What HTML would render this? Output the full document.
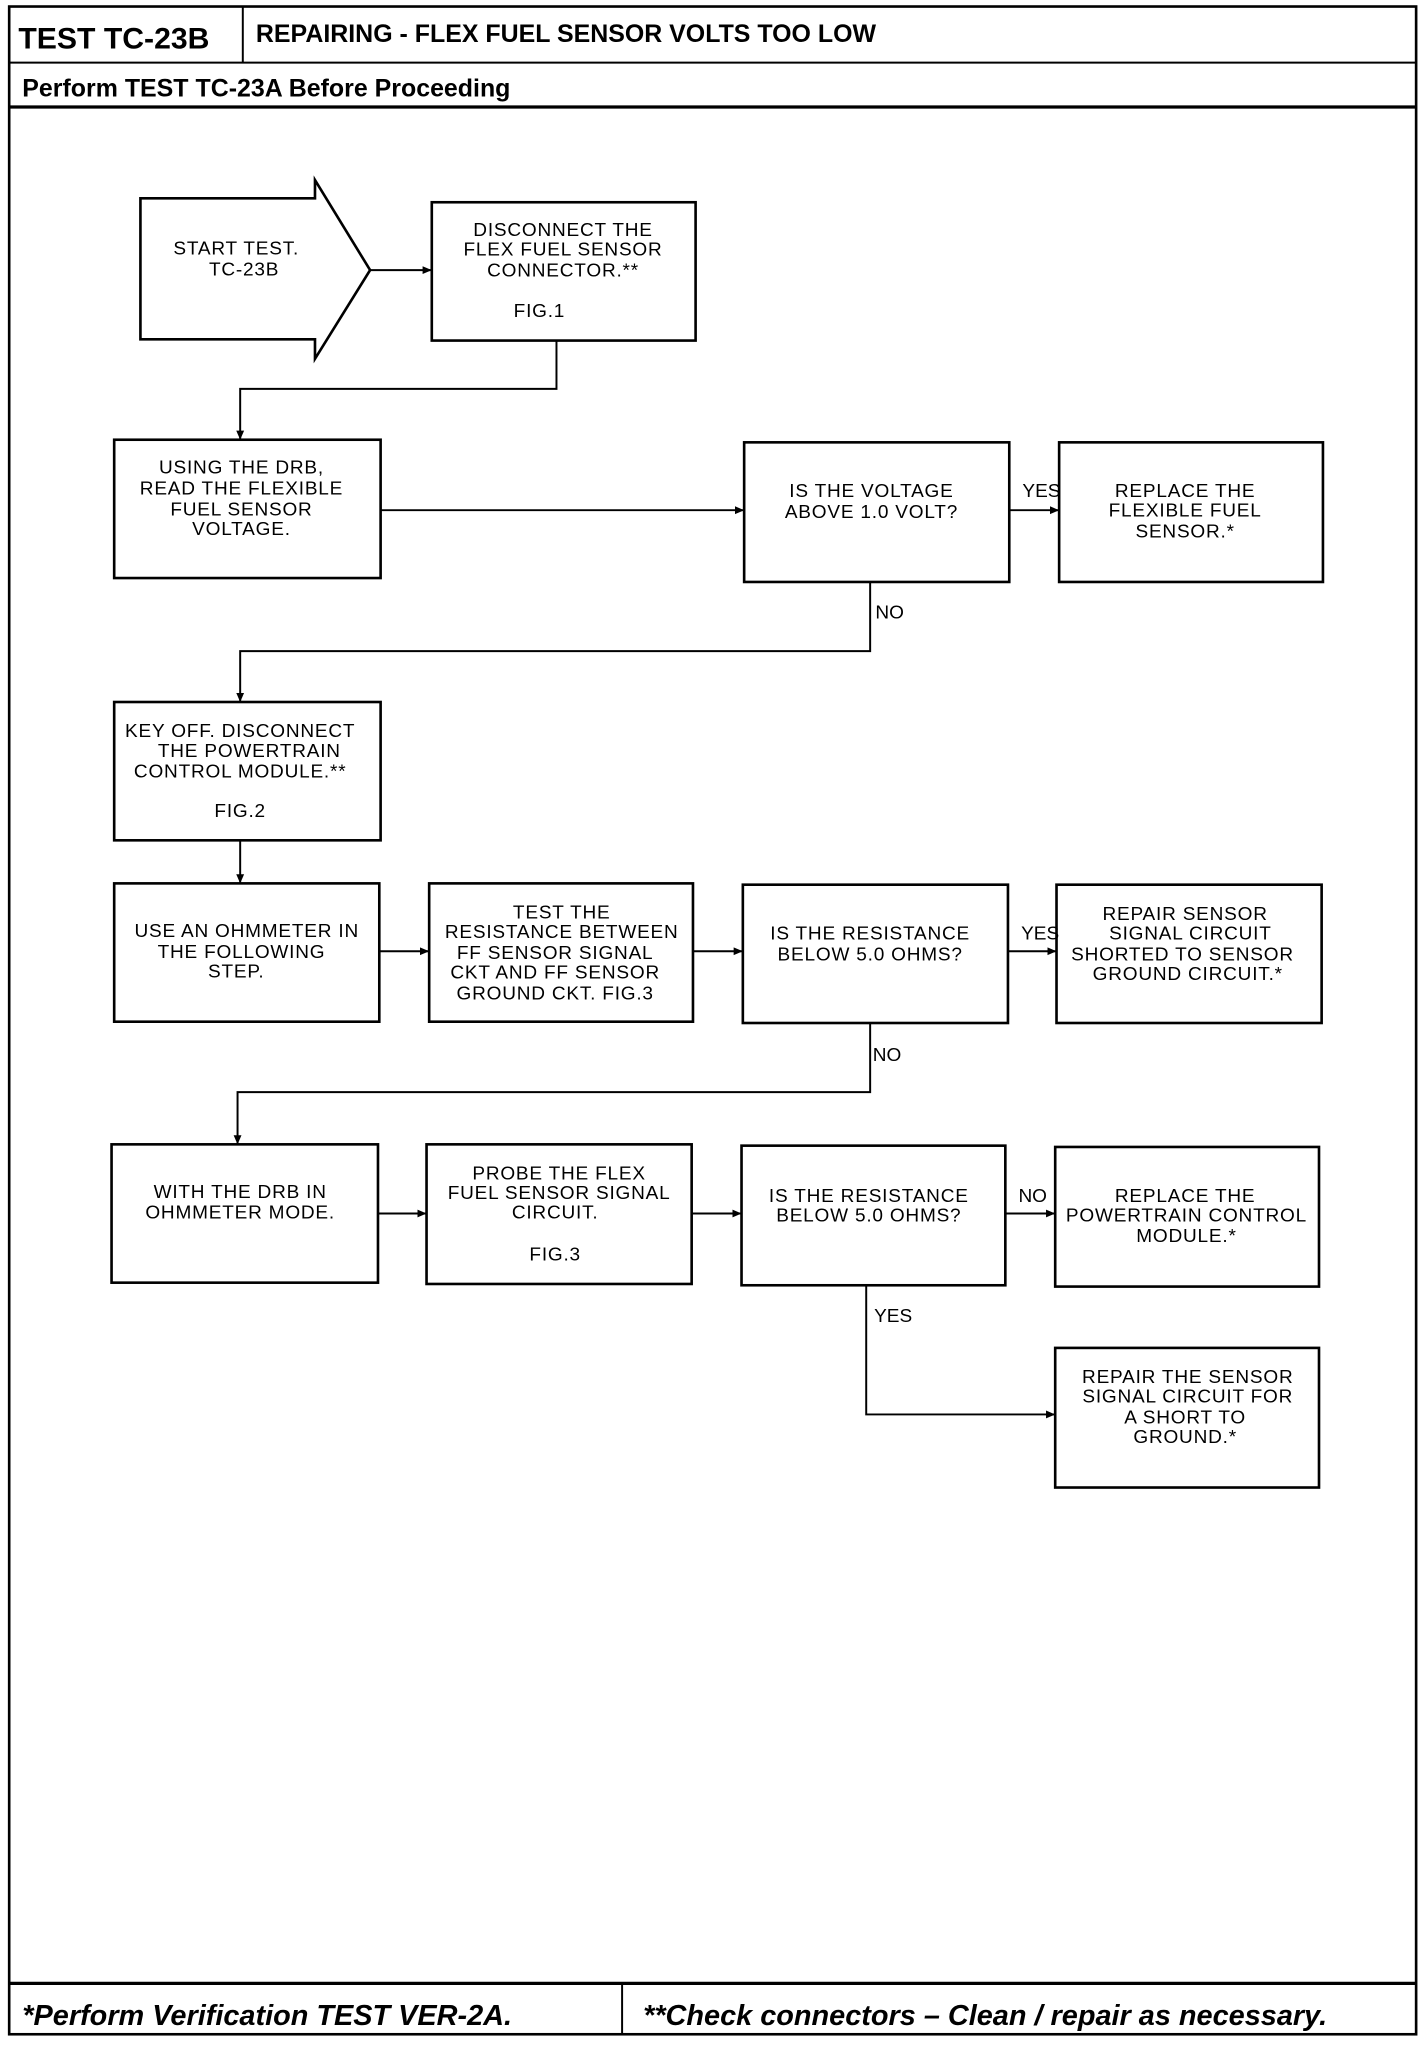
<!DOCTYPE html>
<html><head><meta charset="utf-8"><style>
html,body{margin:0;padding:0;background:#fff;}
svg{display:block;}
.t{font-family:"Liberation Sans",sans-serif;font-size:14.5px;fill:#000;text-anchor:middle;letter-spacing:0.6px;}
.l{font-family:"Liberation Sans",sans-serif;font-size:14.5px;fill:#000;}
</style></head><body>
<svg width="1424" height="2046" viewBox="0 0 1085 1568" preserveAspectRatio="none" xmlns="http://www.w3.org/2000/svg">
<defs><marker id="a" markerWidth="8" markerHeight="8" refX="7" refY="4" orient="auto" markerUnits="userSpaceOnUse"><path d="M0,1 L7,4 L0,7 Z" fill="#000"/></marker></defs>
<g fill="none" stroke="#000">
<rect x="7" y="5" width="1072" height="1554" stroke-width="2"/>
<line x1="7" y1="48" x2="1079" y2="48" stroke-width="1.5"/>
<line x1="185" y1="5" x2="185" y2="48" stroke-width="1.5"/>
<line x1="7" y1="82" x2="1079" y2="82" stroke-width="2.5"/>
<line x1="7" y1="1520" x2="1079" y2="1520" stroke-width="2.5"/>
<line x1="474" y1="1520" x2="474" y2="1559" stroke-width="1.5"/>
<g stroke-width="2">
<polygon points="107,152 240,152 240,138 282,207 240,275 240,260 107,260"/>
<rect x="329" y="155" width="201" height="106"/>
<rect x="87" y="337" width="203" height="106"/>
<rect x="567" y="339" width="202" height="107"/>
<rect x="807" y="339" width="201" height="107"/>
<rect x="87" y="538" width="203" height="106"/>
<rect x="87" y="677" width="202" height="106"/>
<rect x="327" y="677" width="201" height="106"/>
<rect x="566" y="678" width="202" height="106"/>
<rect x="805" y="678" width="202" height="106"/>
<rect x="85" y="877" width="203" height="106"/>
<rect x="325" y="877" width="202" height="107"/>
<rect x="565" y="878" width="201" height="107"/>
<rect x="804" y="879" width="201" height="107"/>
<rect x="804" y="1033" width="201" height="107"/>
</g>
<g stroke-width="1.5" marker-end="url(#a)">
<line x1="282" y1="207" x2="329" y2="207"/>
<polyline points="424,261 424,298 183,298 183,337"/>
<line x1="290" y1="391" x2="567" y2="391"/>
<line x1="769" y1="391" x2="807" y2="391"/>
<polyline points="663,446 663,499 183,499 183,538"/>
<line x1="183" y1="644" x2="183" y2="677"/>
<line x1="289" y1="729" x2="327" y2="729"/>
<line x1="528" y1="729" x2="566" y2="729"/>
<line x1="768" y1="729" x2="805" y2="729"/>
<polyline points="663,784 663,837 181,837 181,877"/>
<line x1="288" y1="930" x2="325" y2="930"/>
<line x1="527" y1="930" x2="565" y2="930"/>
<line x1="766" y1="930" x2="804" y2="930"/>
<polyline points="660,985 660,1084 804,1084"/>
</g>
</g>
<text x="14" y="37" style="font-family:'Liberation Sans',sans-serif;font-weight:bold;font-size:23px">TEST TC-23B</text>
<text x="195" y="32" style="font-family:'Liberation Sans',sans-serif;font-weight:bold;font-size:19px">REPAIRING - FLEX FUEL SENSOR VOLTS TOO LOW</text>
<text x="17" y="74" style="font-family:'Liberation Sans',sans-serif;font-weight:bold;font-size:19px">Perform TEST TC-23A Before Proceeding</text>
<text x="17" y="1552" style="font-family:'Liberation Sans',sans-serif;font-weight:bold;font-style:italic;font-size:22px">*Perform Verification TEST VER-2A.</text>
<text x="490" y="1552" style="font-family:'Liberation Sans',sans-serif;font-weight:bold;font-style:italic;font-size:22px">**Check connectors – Clean / repair as necessary.</text>
<g class="t">
<text x="180" y="195">START TEST.</text><text x="186" y="211">TC-23B</text>
<text x="429" y="181">DISCONNECT THE</text><text x="429" y="196">FLEX FUEL SENSOR</text><text x="429" y="212">CONNECTOR.**</text><text x="411" y="243">FIG.1</text>
<text x="184" y="363">USING THE DRB,</text><text x="184" y="379">READ THE FLEXIBLE</text><text x="184" y="395">FUEL SENSOR</text><text x="184" y="410">VOLTAGE.</text>
<text x="664" y="381">IS THE VOLTAGE</text><text x="664" y="397">ABOVE 1.0 VOLT?</text>
<text x="903" y="381">REPLACE THE</text><text x="903" y="396">FLEXIBLE FUEL</text><text x="903" y="412">SENSOR.*</text>
<text x="183" y="565">KEY OFF. DISCONNECT</text><text x="190" y="580">THE POWERTRAIN</text><text x="183" y="596">CONTROL MODULE.**</text><text x="183" y="626">FIG.2</text>
<text x="188" y="718">USE AN OHMMETER IN</text><text x="184" y="734">THE FOLLOWING</text><text x="180" y="749">STEP.</text>
<text x="428" y="704">TEST THE</text><text x="428" y="719">RESISTANCE BETWEEN</text><text x="423" y="735">FF SENSOR SIGNAL</text><text x="423" y="750">CKT AND FF SENSOR</text><text x="423" y="766">GROUND CKT. FIG.3</text>
<text x="663" y="720">IS THE RESISTANCE</text><text x="663" y="736">BELOW 5.0 OHMS?</text>
<text x="903" y="705">REPAIR SENSOR</text><text x="907" y="720">SIGNAL CIRCUIT</text><text x="901" y="736">SHORTED TO SENSOR</text><text x="905" y="751">GROUND CIRCUIT.*</text>
<text x="183" y="918">WITH THE DRB IN</text><text x="183" y="934">OHMMETER MODE.</text>
<text x="426" y="904">PROBE THE FLEX</text><text x="426" y="919">FUEL SENSOR SIGNAL</text><text x="423" y="934">CIRCUIT.</text><text x="423" y="966">FIG.3</text>
<text x="662" y="921">IS THE RESISTANCE</text><text x="662" y="936">BELOW 5.0 OHMS?</text>
<text x="903" y="921">REPLACE THE</text><text x="904" y="936">POWERTRAIN CONTROL</text><text x="904" y="952">MODULE.*</text>
<text x="905" y="1060">REPAIR THE SENSOR</text><text x="905" y="1075">SIGNAL CIRCUIT FOR</text><text x="903" y="1091">A SHORT TO</text><text x="903" y="1106">GROUND.*</text>
</g>
<g class="l">
<text x="779" y="381">YES</text><text x="667" y="474">NO</text>
<text x="778" y="720">YES</text><text x="665" y="813">NO</text>
<text x="776" y="921">NO</text><text x="666" y="1013">YES</text>
</g>
</svg>
</body></html>
